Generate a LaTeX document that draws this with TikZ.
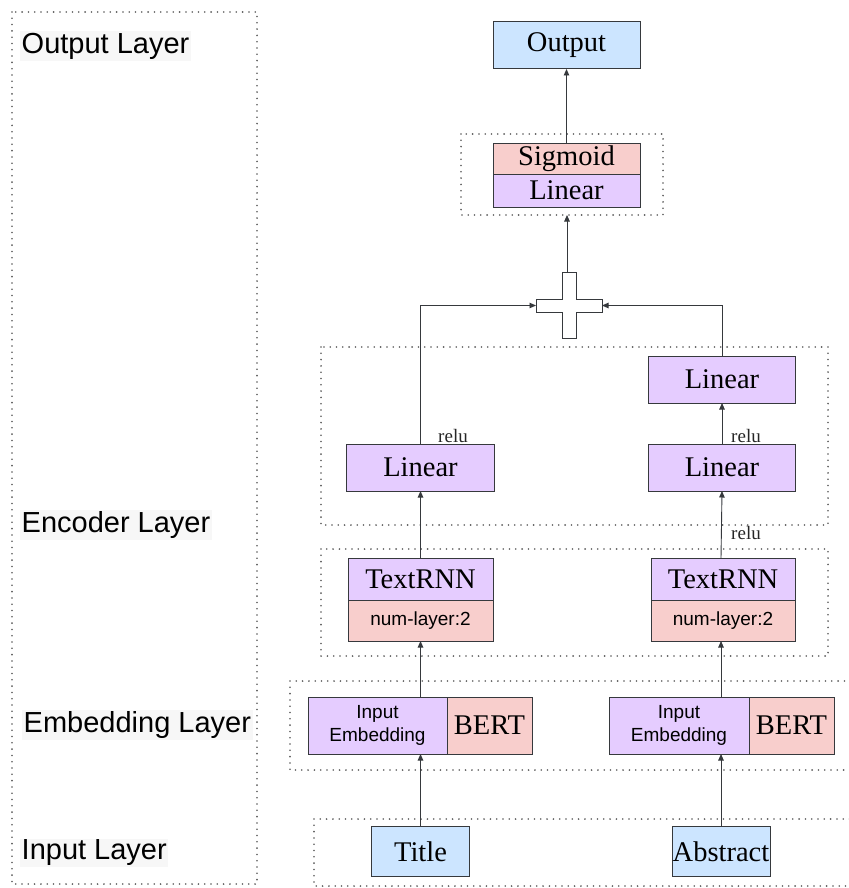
\documentclass[tikz,border=0pt]{standalone}
\usepackage{fontspec}
\setmainfont{Liberation Serif}
\setsansfont{Liberation Sans}
\usetikzlibrary{arrows.meta}

\definecolor{boxblue}{HTML}{CCE5FF}
\definecolor{boxpink}{HTML}{F8CECC}
\definecolor{boxpurple}{HTML}{E5CCFF}
\definecolor{edgegray}{HTML}{36393D}
\definecolor{framegray}{HTML}{5A5A5A}

\tikzset{
  blk/.style={draw=edgegray, line width=1pt, inner sep=0pt, outer sep=0pt,
    font=\fontsize{28.5}{32}\selectfont},
  smallsans/.style={font=\sffamily\fontsize{19}{23}\selectfont},
  layerlabel/.style={anchor=west, inner sep=1.5pt, fill=black!3,
    font=\sffamily\fontsize{29}{33}\selectfont},
  groupframe/.style={draw=framegray, line width=1.8pt, line cap=round,
    dash pattern=on 0pt off 6.3pt},
  arr/.style={draw=edgegray, line width=0.9pt, -{Triangle[width=5.5pt,length=6.5pt]}},
  actlabel/.style={font=\fontsize{19}{21}\selectfont, inner sep=0pt, text=black!85},
}

\begin{document}
\begin{tikzpicture}[x=1pt,y=-1pt]
\useasboundingbox (0,0) rectangle (848,888);

% dotted frames around the layers
\draw[groupframe] (12,12) rectangle (257,884);
\draw[groupframe] (461,134) rectangle (663,215);
\draw[groupframe] (321,347) rectangle (828,525);
\draw[groupframe] (321,549) rectangle (828,656);
\draw[groupframe] (290,681) -- (852,681) (290,681) -- (290,770) -- (852,770);
\draw[groupframe] (314,819) -- (852,819) (314,819) -- (314,886) -- (852,886);
\coordinate (outframe) at (567,215);

% layer names
\node[layerlabel] (lOut) at (20,46) {Output Layer};
\node[layerlabel] (lEnc) at (20,525) {Encoder Layer};
\node[layerlabel] (lEmb) at (22,725) {Embedding Layer};
\node[layerlabel] (lIn)  at (20,853) {Input Layer};

% output head
\node[blk, fill=boxblue, minimum width=147pt, minimum height=47pt] (out) at (566.5,45.5) {Output};
\node[blk, fill=boxpink, minimum width=147pt, minimum height=31pt] (sig) at (566.5,158.5) {Sigmoid};
\node[blk, fill=boxpurple, minimum width=147pt, minimum height=33pt] (lin0) at (566.5,190.5) {Linear};

% concatenation (plus) symbol
\draw[edgegray, line width=1pt, fill=white]
  (562,272) -- (576,272) -- (576,299) -- (602,299) -- (602,312) -- (576,312)
  -- (576,338) -- (562,338) -- (562,312) -- (536,312) -- (536,299) -- (562,299) -- cycle;
\coordinate (plusT) at (567,272);
\coordinate (plusL) at (536,305.5);
\coordinate (plusR) at (602,305.5);

% encoder: linear layers
\node[blk, fill=boxpurple, minimum width=148pt, minimum height=47pt] (linL) at (420.5,467.5) {Linear};
\node[blk, fill=boxpurple, minimum width=147pt, minimum height=47pt] (linR1) at (722,467.5) {Linear};
\node[blk, fill=boxpurple, minimum width=147pt, minimum height=47pt] (linR2) at (722,379.5) {Linear};

% encoder: TextRNN blocks
\node[blk, fill=boxpurple, minimum width=145pt, minimum height=42pt] (rnnL) at (420.5,579) {TextRNN};
\node[blk, fill=boxpink, minimum width=145pt, minimum height=41pt, smallsans] (numL) at (420.5,620.5) {num-layer:2};
\node[blk, fill=boxpurple, minimum width=144pt, minimum height=42pt] (rnnR) at (723,579) {TextRNN};
\node[blk, fill=boxpink, minimum width=144pt, minimum height=41pt, smallsans] (numR) at (723,620.5) {num-layer:2};

% embedding blocks
\node[blk, fill=boxpurple, minimum width=139pt, minimum height=57pt, smallsans, align=center] (embL) at (377.5,725.5) {Input\\Embedding};
\node[blk, fill=boxpink, minimum width=85pt, minimum height=57pt] (bertL) at (489.5,725.5) {BERT};
\node[blk, fill=boxpurple, minimum width=140pt, minimum height=57pt, smallsans, align=center] (embR) at (679,725.5) {Input\\Embedding};
\node[blk, fill=boxpink, minimum width=85pt, minimum height=57pt] (bertR) at (791.5,725.5) {BERT};

% inputs
\node[blk, fill=boxblue, minimum width=98pt, minimum height=50pt] (title) at (420.5,851.5) {Title};
\node[blk, fill=boxblue, minimum width=98pt, minimum height=50pt] (abs) at (721,851.5) {Abstract};

% connectors, left branch
\draw[arr] (title.north) -- (title.north |- embL.south);
\draw[arr] (numL.south |- embL.north) -- (numL.south);
\draw[arr] (rnnL.north) -- (linL.south);
\draw[arr] (linL.north) |- (plusL);

% connectors, right branch
\draw[arr] (abs.north) -- (abs.north |- embR.south);
\draw[arr] (abs.north |- embR.north) -- (abs.north |- numR.south);
\draw[arr] (abs.north |- rnnR.north) -- (linR1.south);
\draw[arr] (linR1.north) -- (linR2.south);
\draw[arr] (linR2.north) |- (plusR);

% head connectors
\draw[arr] (plusT) -- (outframe);
\draw[arr] (sig.north) -- (out.south);

% activation labels
\node[actlabel] (reluL) at (453,436) {relu};
\node[actlabel] (reluR1) at (746,436) {relu};
\node[actlabel] (reluR2) at (746,533) {relu};
\end{tikzpicture}
\end{document}
